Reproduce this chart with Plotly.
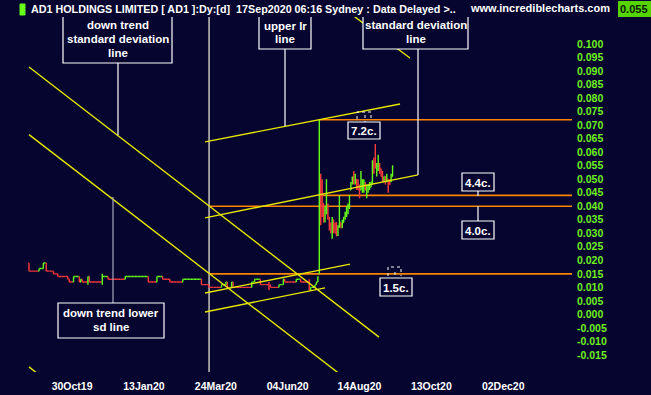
import plotly.graph_objects as go

# ---------------- data ----------------
# daily closes, bar index 0..201 (quiet period, Sep 2019 - early Jul 2020)
flat_first_open = 0.019
flat_close = [
    0.016,
    0.016, 0.016, 0.016, 0.016, 0.016, 0.016,
    0.017, 0.017, 0.017,
    0.019, 0.019,
    0.016, 0.016, 0.016, 0.016, 0.016,
    0.015, 0.015, 0.015,
    0.014, 0.014, 0.014, 0.014, 0.014, 0.014, 0.014,
    0.013,
    0.012, 0.012, 0.012,
    0.014, 0.014, 0.014, 0.014,
    0.012,
    0.013,
    0.012, 0.012, 0.012, 0.012,
    0.014,
    0.012, 0.012, 0.012, 0.012, 0.012, 0.012, 0.012, 0.012, 0.012,
    0.014, 0.014, 0.014, 0.014,
    0.013, 0.013, 0.013, 0.013, 0.013, 0.013, 0.013, 0.013, 0.013, 0.013, 0.013, 0.013,
    0.014, 0.014, 0.014, 0.014, 0.014, 0.014, 0.014, 0.014,
    0.014, 0.014, 0.014, 0.014, 0.014, 0.014, 0.014, 0.014,
    0.012, 0.012, 0.012, 0.012, 0.012, 0.012,
    0.014, 0.014, 0.014, 0.014,
    0.013, 0.013, 0.013, 0.013, 0.013,
    0.012, 0.012, 0.012, 0.012, 0.012, 0.012, 0.012, 0.012, 0.012,
    0.013, 0.013, 0.013, 0.013, 0.013, 0.013, 0.013, 0.013, 0.013, 0.013, 0.013, 0.013, 0.013,
    0.011, 0.011, 0.011, 0.011, 0.011,
    0.010, 0.010, 0.010, 0.010, 0.010, 0.010, 0.010, 0.010, 0.010,
    0.011, 0.011, 0.011,
    0.012,
    0.010, 0.010, 0.010,
    0.012,
    0.010, 0.010, 0.010, 0.010, 0.010, 0.010, 0.010, 0.010, 0.010, 0.010, 0.010, 0.010, 0.010,
    0.012, 0.012,
    0.013, 0.013, 0.013, 0.013,
    0.011, 0.011, 0.011, 0.011, 0.011, 0.011, 0.011,
    0.010, 0.010, 0.010, 0.010, 0.010, 0.010,
    0.011, 0.011, 0.011,
    0.013,
    0.012, 0.012, 0.012, 0.012, 0.012, 0.012, 0.012, 0.012,
    0.013, 0.013, 0.013,
    0.012, 0.012, 0.012, 0.012, 0.012, 0.012,
    0.009,
    0.010, 0.010, 0.010,
    0.011,
    0.012,
    0.014,
]
# intraday extremes in the quiet period (bar index, high, low)
spike_index = [41, 51, 120, 167, 195]
spike_high = [0.014, 0.015, 0.013, 0.012, 0.013]
spike_low = [0.011, 0.011, 0.011, 0.009, 0.009]

# active period, bar index 202..253 (Jul 2020 - 17 Sep 2020)
act_open = [0.015, 0.050, 0.048, 0.041, 0.035, 0.038, 0.040, 0.036, 0.032, 0.029,
            0.035, 0.033, 0.034, 0.031, 0.033, 0.034, 0.032, 0.034, 0.036, 0.037,
            0.039, 0.040, 0.046, 0.049, 0.052, 0.049, 0.050, 0.049, 0.047, 0.046,
            0.047, 0.046, 0.048, 0.044, 0.046, 0.047, 0.047, 0.049, 0.055, 0.060,
            0.052, 0.054, 0.055, 0.054, 0.052, 0.049, 0.051, 0.049, 0.050, 0.049,
            0.049, 0.051]
act_high = [0.072, 0.052, 0.050, 0.041, 0.040, 0.050, 0.041, 0.036, 0.034, 0.036,
            0.035, 0.034, 0.034, 0.033, 0.044, 0.034, 0.035, 0.036, 0.038, 0.040,
            0.041, 0.044, 0.049, 0.051, 0.053, 0.052, 0.050, 0.050, 0.048, 0.053,
            0.050, 0.050, 0.049, 0.048, 0.048, 0.049, 0.049, 0.057, 0.058, 0.063,
            0.056, 0.059, 0.056, 0.054, 0.053, 0.051, 0.051, 0.052, 0.050, 0.050,
            0.052, 0.055]
act_low = [0.015, 0.033, 0.036, 0.034, 0.034, 0.037, 0.035, 0.031, 0.030, 0.028,
           0.030, 0.030, 0.029, 0.029, 0.032, 0.032, 0.032, 0.034, 0.035, 0.036,
           0.037, 0.039, 0.046, 0.048, 0.048, 0.048, 0.046, 0.046, 0.043, 0.046,
           0.045, 0.045, 0.046, 0.043, 0.045, 0.046, 0.047, 0.048, 0.052, 0.054,
           0.051, 0.053, 0.052, 0.051, 0.049, 0.049, 0.048, 0.049, 0.045, 0.048,
           0.049, 0.051]
act_close = [0.050, 0.036, 0.040, 0.035, 0.038, 0.045, 0.036, 0.032, 0.031, 0.034,
             0.031, 0.030, 0.029, 0.032, 0.034, 0.032, 0.034, 0.036, 0.037, 0.039,
             0.040, 0.044, 0.048, 0.050, 0.049, 0.051, 0.047, 0.046, 0.045, 0.050,
             0.049, 0.048, 0.046, 0.047, 0.048, 0.048, 0.049, 0.056, 0.054, 0.055,
             0.055, 0.057, 0.053, 0.051, 0.050, 0.051, 0.049, 0.051, 0.048, 0.048,
             0.051, 0.055]

date_tick_index = [30, 80, 130, 180, 230, 280, 330]
date_tick_labels = ["30Oct19", "13Jan20", "24Mar20", "04Jun20", "14Aug20", "13Oct20", "02Dec20"]
price_ticks = [0.100, 0.095, 0.090, 0.085, 0.080, 0.075, 0.070, 0.065, 0.060, 0.055, 0.050,
               0.045, 0.040, 0.035, 0.030, 0.025, 0.020, 0.015, 0.010, 0.005, 0.000,
               -0.005, -0.010, -0.015]
price_tick_labels = ["0.100", "0.095", "0.090", "0.085", "0.080", "0.075", "0.070", "0.065",
                     "0.060", "0.055", "0.050", "0.045", "0.040", "0.035", "0.030", "0.025",
                     "0.020", "0.015", "0.010", "0.005", "0.000", "-0.005", "-0.010", "-0.015"]

# drawn trend lines: (bar index, price) end points
down_mid_x, down_mid_y = [0, 243.6], [0.0915, -0.0084]
down_low_x, down_low_y = [0, 220.0], [0.0665, -0.0236]
down_up_x, down_up_y = [220.3, 265.1], [0.1126, 0.0948]
down_low2_x, down_low2_y = [0, 8.0], [-0.0194, -0.0228]
lr_up_x, lr_up_y = [122.5, 258.2], [0.0638, 0.0778]
lr_mid_x, lr_mid_y = [122.5, 270.7], [0.0357, 0.0516]
lr_low_x, lr_low_y = [122.5, 223.4], [0.0079, 0.0186]
lr_low2_x, lr_low2_y = [122.5, 206.0], [0.0009, 0.0098]

level_prices = [0.072, 0.044, 0.040, 0.015]
level_start = [202, 202, 125.3, 125.3]
marker_index = 125.3

# ---------------- build OHLC table ----------------
opens = [flat_first_open] + flat_close[:-1]
highs = [max(o, c) for o, c in zip(opens, flat_close)]
lows = [min(o, c) for o, c in zip(opens, flat_close)]
for k, h, l in zip(spike_index, spike_high, spike_low):
    highs[k] = max(highs[k], h)
    lows[k] = min(lows[k], l)
O = opens + act_open
H = highs + act_high
L = lows + act_low
C = flat_close + act_close
X = list(range(len(C)))

up = []
prev = False
for o, c in zip(O, C):
    if c > o:
        prev = True
    elif c < o:
        prev = False
    up.append(prev)

GREEN = "#66ff1a"
RED = "#ff3b3b"
YEL = "#e6e600"
ORG = "#ff8400"
BG = "#05052f"
FONT = "Liberation Sans"

XMIN, XMAX = -29 / 1.437, (572 - 29) / 1.437
YMIN, YMAX = 0.1 - (372 - 44) / 2704, 0.1 + (44 - 17) / 2704


def ix(px):
    return (px - 29) / 1.437


def pv(py):
    return 0.1 - (py - 44) / 2704


fig = go.Figure()
for flag, col in [(False, RED), (True, GREEN)]:
    sel = [i for i in X if up[i] == flag]
    fig.add_trace(go.Ohlc(
        x=[X[i] for i in sel], open=[O[i] for i in sel], high=[H[i] for i in sel],
        low=[L[i] for i in sel], close=[C[i] for i in sel],
        increasing=dict(line=dict(color=col, width=1.4)),
        decreasing=dict(line=dict(color=col, width=1.4)),
        tickwidth=0.5, showlegend=False, hoverinfo="skip"))

for lx, ly in [(down_mid_x, down_mid_y), (down_low_x, down_low_y), (down_up_x, down_up_y),
               (down_low2_x, down_low2_y), (lr_up_x, lr_up_y), (lr_mid_x, lr_mid_y),
               (lr_low_x, lr_low_y), (lr_low2_x, lr_low2_y)]:
    fig.add_trace(go.Scatter(x=lx, y=ly, mode="lines", line=dict(color=YEL, width=1.4),
                             showlegend=False, hoverinfo="skip"))

shapes = []
shapes.append(dict(type="line", xref="x", yref="y", x0=marker_index, x1=marker_index,
                   y0=YMIN, y1=YMAX, line=dict(color="#f4f4dc", width=1.2), layer="below"))
for p, s in zip(level_prices, level_start):
    shapes.append(dict(type="line", xref="x", yref="y", x0=s, x1=XMAX, y0=p, y1=p,
                       line=dict(color=ORG, width=1.6), layer="below"))

annotations = []


def box(x0, y0, x1, y1):
    shapes.append(dict(type="rect", xref="x", yref="y", x0=ix(x0), x1=ix(x1), y0=pv(y0), y1=pv(y1),
                       line=dict(color="white", width=1.2), fillcolor=BG, layer="above"))


def conn(px, py0, py1, color="white"):
    shapes.append(dict(type="line", xref="x", yref="y", x0=ix(px), x1=ix(px), y0=pv(py0), y1=pv(py1),
                       line=dict(color=color, width=1.2), layer="above"))


def txt(px, py, s, size=11.5):
    annotations.append(dict(xref="x", yref="y", x=ix(px), y=pv(py), text=s, showarrow=False,
                            font=dict(family=FONT, size=size, color="white", weight="bold"),
                            xanchor="center", yanchor="middle"))


def dotted(path_pts):
    d = ""
    for j, (a, b) in enumerate(path_pts):
        d += ("M" if j == 0 else "L") + f"{ix(a)},{pv(b)} "
    shapes.append(dict(type="path", xref="x", yref="y", path=d.strip(),
                       line=dict(color="white", width=1, dash="dot"), layer="above"))


# connectors
conn(118, 63, 135)
conn(285, 49, 126)
conn(418, 49, 175)
conn(113, 197, 303, "#a8a8bc")
conn(478, 191, 196)
conn(478, 206, 221)

# boxes + text
box(63, 16, 172, 63)
txt(117.5, 25, "down trend")
txt(117.5, 39, "standard deviation")
txt(117.5, 53, "line")
box(259, 16, 311, 49)
txt(285, 25.5, "upper lr")
txt(285, 39, "line")
box(363, 16, 468, 49)
txt(415.5, 25, "standard deviation")
txt(415.5, 39, "line")
box(58, 303, 164, 338)
txt(111, 313, "down trend lower")
txt(111, 327, "sd line")
box(348, 122, 380, 139)
txt(364, 131, "7.2c.")
box(462, 173, 494, 191)
txt(478, 182.5, "4.4c.")
box(462, 221, 494, 239)
txt(478, 230.5, "4.0c.")
box(380, 278, 412, 296)
txt(396, 287.5, "1.5c.")

dotted([(357, 119), (357, 112), (371, 112), (371, 118)])
dotted([(365, 115), (365, 122)])
dotted([(388, 276), (388, 267), (401, 267), (401, 276)])
dotted([(395, 272), (395, 278)])


# header (paper coordinates relative to plot area)
def xp(px):
    return px / 572


def yp(py):
    return (372 - py) / 355


shapes.append(dict(type="rect", xref="paper", yref="paper", x0=xp(20), x1=xp(25), y0=yp(15), y1=yp(4),
                   line=dict(color=GREEN, width=1), fillcolor=GREEN))
shapes.append(dict(type="rect", xref="paper", yref="paper", x0=xp(618), x1=xp(651), y0=yp(17), y1=yp(1),
                   line=dict(width=0), fillcolor="#55d400"))
annotations.append(dict(xref="paper", yref="paper", x=xp(29), y=yp(9), xanchor="left", yanchor="middle",
                        text="AD1 HOLDINGS LIMITED [ AD1 ]:Dy:[d]  17Sep2020 06:16 Sydney : Data Delayed >..",
                        showarrow=False, font=dict(family=FONT, size=10.75, color="white", weight="bold")))
annotations.append(dict(xref="paper", yref="paper", x=xp(468), y=yp(8), xanchor="left", yanchor="middle",
                        text="www.incrediblecharts.com", showarrow=False,
                        font=dict(family=FONT, size=11, color="white", weight="bold")))
annotations.append(dict(xref="paper", yref="paper", x=xp(634.5), y=yp(9), xanchor="center", yanchor="middle",
                        text="0.055", showarrow=False,
                        font=dict(family=FONT, size=11, color="#0a1a00", weight="bold")))

fig.update_layout(
    width=651, height=395,
    margin=dict(l=0, r=79, t=17, b=23, pad=0),
    paper_bgcolor=BG, plot_bgcolor=BG,
    shapes=shapes, annotations=annotations,
    showlegend=False,
    xaxis=dict(range=[XMIN, XMAX], showgrid=False, zeroline=False, showline=False, ticks="",
               tickvals=date_tick_index, ticktext=date_tick_labels, automargin=False,
               tickfont=dict(family=FONT, size=10.5, color="white", weight="bold"),
               ticklabelstandoff=6, rangeslider=dict(visible=False), fixedrange=True),
    yaxis=dict(range=[YMIN, YMAX], side="right", showgrid=False, zeroline=False, showline=False,
               ticks="", tickvals=price_ticks, ticktext=price_tick_labels, automargin=False,
               tickfont=dict(family=FONT, size=10.5, color="#70f020", weight="bold"),
               ticklabelstandoff=4, fixedrange=True),
)

page_fix = ("document.documentElement.style.margin='0';document.body.style.margin='0';"
            "document.body.style.padding='0';document.body.style.background='" + BG + "';"
            "document.body.style.overflow='hidden';")
fig.write_html("out.html", config={"displayModeBar": False}, post_script=page_fix)
